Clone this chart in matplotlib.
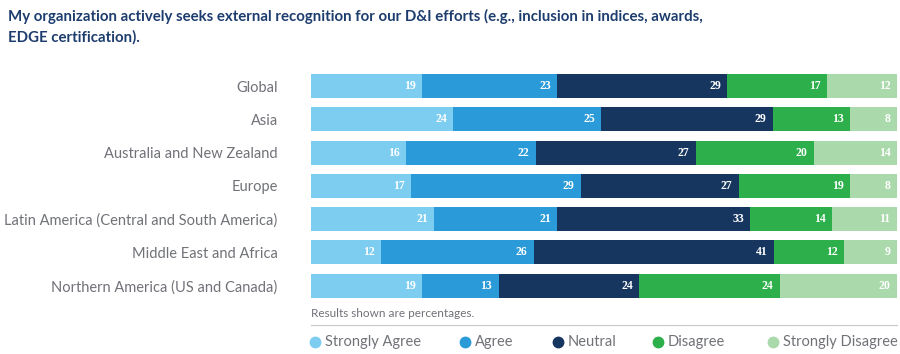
import matplotlib.pyplot as plt
import numpy as np
from matplotlib.lines import Line2D

regions = ["Global", "Asia", "Australia and New Zealand", "Europe",
           "Latin America (Central and South America)", "Middle East and Africa",
           "Northern America (US and Canada)"]
answers = ["Strongly Agree", "Agree", "Neutral", "Disagree", "Strongly Disagree"]
strongly_agree = [19, 24, 16, 17, 21, 12, 19]
agree = [23, 25, 22, 29, 21, 26, 13]
neutral = [29, 29, 27, 27, 33, 41, 24]
disagree = [17, 13, 20, 19, 14, 12, 24]
strongly_disagree = [12, 8, 14, 8, 11, 9, 20]

colors = ["#7dcdf1", "#2a9bd8", "#17365f", "#2db04b", "#aad9ab"]
gray = "#707278"
title_col = "#1d3d6e"
plt.rcParams["font.family"] = ["Lato", "DejaVu Sans"]

data = np.array([strongly_agree, agree, neutral, disagree, strongly_disagree], dtype=float)
totals = data.sum(axis=0)
shares = data / totals * 100

fig = plt.figure(figsize=(9, 3.54), dpi=100)
ax = fig.add_axes([0.3456, 0.146, 0.651, 0.658])

y = np.arange(len(regions))
left = np.zeros(len(regions))
for i, name in enumerate(answers):
    ax.barh(y, shares[i], left=left, height=0.72, color=colors[i], label=name)
    for j in range(len(regions)):
        ax.annotate(f"{int(data[i, j])}", (left[j] + shares[i, j], y[j]),
                    xytext=(-4.5, 0), textcoords="offset points",
                    ha="right", va="center", color="white", fontsize=8.5,
                    fontweight="bold", family="Liberation Serif")
    left += shares[i]

ax.set_xlim(0, 100)
ax.set_ylim(len(regions) - 0.5, -0.5)
ax.set_yticks(y)
ax.set_yticklabels(regions, fontsize=10.5, color=gray)
ax.tick_params(axis="y", length=0, pad=24)
ax.set_xticks([])
for s in ax.spines.values():
    s.set_visible(False)

fig.text(0.009, 0.975, "My organization actively seeks external recognition for our D&I efforts (e.g., inclusion in indices, awards,\nEDGE certification).",
         ha="left", va="top", fontsize=10.8, fontweight="bold", color=title_col, linespacing=1.5)

fig.text(0.3456, 0.115, "Results shown are percentages.", fontsize=8.5, color=gray, va="center")
fig.add_artist(Line2D([0.3456, 0.9967], [0.082, 0.082], color="#c8c8c8", lw=0.8))

# legend, placed by hand
leg_x = [315, 465, 558, 658, 773]
for px, c, name in zip(leg_x, colors, answers):
    fig.add_artist(Line2D([px / 900], [0.033], marker="o", ms=7.5, color=c, ls=""))
    fig.text((px + 10) / 900, 0.033, name, fontsize=10.5, color=gray, va="center", ha="left")

fig.savefig("out.png", dpi=100)
